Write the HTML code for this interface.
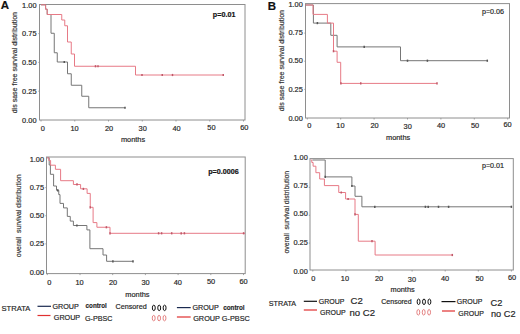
<!DOCTYPE html><html><head><meta charset="utf-8"><style>html,body{margin:0;padding:0;background:#fff;width:520px;height:334px;overflow:hidden}svg{display:block}text{font-family:"Liberation Sans",sans-serif}</style></head><body>
<svg width="520" height="334" viewBox="0 0 520 334">
<rect width="520" height="334" fill="#fff"/>
<text x="0.70" y="8.76" font-size="11.5" text-anchor="start" font-weight="bold" fill="#111" stroke="#111" stroke-width="0.18">A</text>
<rect x="39.50" y="4.50" width="205.50" height="115.50" fill="none" stroke="#8e8e8e" stroke-width="1"/>
<line x1="41.00" y1="120.00" x2="41.00" y2="121.50" stroke="#8e8e8e" stroke-width="0.8"/>
<line x1="74.75" y1="120.00" x2="74.75" y2="121.50" stroke="#8e8e8e" stroke-width="0.8"/>
<line x1="108.50" y1="120.00" x2="108.50" y2="121.50" stroke="#8e8e8e" stroke-width="0.8"/>
<line x1="142.25" y1="120.00" x2="142.25" y2="121.50" stroke="#8e8e8e" stroke-width="0.8"/>
<line x1="176.00" y1="120.00" x2="176.00" y2="121.50" stroke="#8e8e8e" stroke-width="0.8"/>
<line x1="209.75" y1="120.00" x2="209.75" y2="121.50" stroke="#8e8e8e" stroke-width="0.8"/>
<line x1="243.50" y1="120.00" x2="243.50" y2="121.50" stroke="#8e8e8e" stroke-width="0.8"/>
<line x1="38.30" y1="33.60" x2="39.50" y2="33.60" stroke="#8e8e8e" stroke-width="0.8"/>
<line x1="38.30" y1="62.40" x2="39.50" y2="62.40" stroke="#8e8e8e" stroke-width="0.8"/>
<line x1="38.30" y1="91.20" x2="39.50" y2="91.20" stroke="#8e8e8e" stroke-width="0.8"/>
<text x="36.50" y="7.75" font-size="7.4" text-anchor="end" font-weight="normal" fill="#262626" stroke="#262626" stroke-width="0.18">1.00</text>
<text x="36.50" y="35.95" font-size="7.4" text-anchor="end" font-weight="normal" fill="#262626" stroke="#262626" stroke-width="0.18">0.75</text>
<text x="36.50" y="64.65" font-size="7.4" text-anchor="end" font-weight="normal" fill="#262626" stroke="#262626" stroke-width="0.18">0.50</text>
<text x="36.50" y="93.55" font-size="7.4" text-anchor="end" font-weight="normal" fill="#262626" stroke="#262626" stroke-width="0.18">0.25</text>
<text x="36.50" y="123.35" font-size="7.4" text-anchor="end" font-weight="normal" fill="#262626" stroke="#262626" stroke-width="0.18">0.00</text>
<text x="42.80" y="130.75" font-size="7.4" text-anchor="middle" font-weight="normal" fill="#262626" stroke="#262626" stroke-width="0.18">0</text>
<text x="74.60" y="130.75" font-size="7.4" text-anchor="middle" font-weight="normal" fill="#262626" stroke="#262626" stroke-width="0.18">10</text>
<text x="109.00" y="130.75" font-size="7.4" text-anchor="middle" font-weight="normal" fill="#262626" stroke="#262626" stroke-width="0.18">20</text>
<text x="142.70" y="131.45" font-size="7.4" text-anchor="middle" font-weight="normal" fill="#262626" stroke="#262626" stroke-width="0.18">30</text>
<text x="176.60" y="130.75" font-size="7.4" text-anchor="middle" font-weight="normal" fill="#262626" stroke="#262626" stroke-width="0.18">40</text>
<text x="211.40" y="130.15" font-size="7.4" text-anchor="middle" font-weight="normal" fill="#262626" stroke="#262626" stroke-width="0.18">50</text>
<text x="244.30" y="130.05" font-size="7.4" text-anchor="middle" font-weight="normal" fill="#262626" stroke="#262626" stroke-width="0.18">60</text>
<text x="133.00" y="142.25" font-size="7.4" text-anchor="middle" font-weight="normal" fill="#262626" stroke="#262626" stroke-width="0.18">months</text>
<text x="0" y="0" font-size="7.0" text-anchor="middle" fill="#333" stroke="#333" stroke-width="0.18" transform="translate(17.10,62.60) rotate(-90)">dis sase free survival distribution</text>
<text x="224.10" y="16.88" font-size="7.2" text-anchor="middle" font-weight="bold" fill="#111" stroke="#111" stroke-width="0.18">p=0.01</text>
<path d="M41.00 4.80 L45.60 4.80 L45.60 9.20 L47.20 9.20 L47.20 14.50 L51.00 14.50 L51.00 33.25 L54.25 33.25 L54.25 52.75 L57.25 52.75 L57.25 62.00 L67.50 62.00 L67.50 73.75 L71.25 73.75 L71.25 85.25 L81.75 85.25 L81.75 96.25 L88.75 96.25 L88.75 107.75 L125.00 107.75" fill="none" stroke="#767676" stroke-width="1.0" stroke-linejoin="miter"/>
<path d="M41.00 4.80 L45.60 4.80 L45.60 9.20 L47.20 9.20 L47.20 14.50 L61.75 14.50 L61.75 20.00 L64.75 20.00 L64.75 25.75 L67.50 25.75 L67.50 42.00 L71.25 42.00 L71.25 54.00 L74.50 54.00 L74.50 66.25 L135.50 66.25 L135.50 75.00 L223.25 75.00" fill="none" stroke="#e77a86" stroke-width="1.0" stroke-linejoin="miter"/>
<line x1="64.25" y1="60.90" x2="64.25" y2="63.10" stroke="#555" stroke-width="1.5"/>
<line x1="125.00" y1="106.65" x2="125.00" y2="108.85" stroke="#555" stroke-width="1.5"/>
<line x1="95.50" y1="65.15" x2="95.50" y2="67.35" stroke="#c05868" stroke-width="1.5"/>
<line x1="98.00" y1="65.15" x2="98.00" y2="67.35" stroke="#c05868" stroke-width="1.5"/>
<line x1="142.00" y1="73.90" x2="142.00" y2="76.10" stroke="#c05868" stroke-width="1.5"/>
<line x1="162.25" y1="73.90" x2="162.25" y2="76.10" stroke="#c05868" stroke-width="1.5"/>
<line x1="172.50" y1="73.90" x2="172.50" y2="76.10" stroke="#c05868" stroke-width="1.5"/>
<line x1="223.25" y1="73.90" x2="223.25" y2="76.10" stroke="#c05868" stroke-width="1.5"/>
<rect x="46.50" y="157.00" width="198.70" height="116.60" fill="none" stroke="#8e8e8e" stroke-width="1"/>
<line x1="47.30" y1="273.60" x2="47.30" y2="275.10" stroke="#8e8e8e" stroke-width="0.8"/>
<line x1="80.00" y1="273.60" x2="80.00" y2="275.10" stroke="#8e8e8e" stroke-width="0.8"/>
<line x1="112.70" y1="273.60" x2="112.70" y2="275.10" stroke="#8e8e8e" stroke-width="0.8"/>
<line x1="145.40" y1="273.60" x2="145.40" y2="275.10" stroke="#8e8e8e" stroke-width="0.8"/>
<line x1="178.10" y1="273.60" x2="178.10" y2="275.10" stroke="#8e8e8e" stroke-width="0.8"/>
<line x1="210.80" y1="273.60" x2="210.80" y2="275.10" stroke="#8e8e8e" stroke-width="0.8"/>
<line x1="243.50" y1="273.60" x2="243.50" y2="275.10" stroke="#8e8e8e" stroke-width="0.8"/>
<line x1="45.30" y1="187.62" x2="46.50" y2="187.62" stroke="#8e8e8e" stroke-width="0.8"/>
<line x1="45.30" y1="215.75" x2="46.50" y2="215.75" stroke="#8e8e8e" stroke-width="0.8"/>
<line x1="45.30" y1="243.88" x2="46.50" y2="243.88" stroke="#8e8e8e" stroke-width="0.8"/>
<text x="44.10" y="162.40" font-size="7.4" text-anchor="end" font-weight="normal" fill="#262626" stroke="#262626" stroke-width="0.18">1.00</text>
<text x="44.10" y="189.75" font-size="7.4" text-anchor="end" font-weight="normal" fill="#262626" stroke="#262626" stroke-width="0.18">0.75</text>
<text x="44.10" y="217.65" font-size="7.4" text-anchor="end" font-weight="normal" fill="#262626" stroke="#262626" stroke-width="0.18">0.50</text>
<text x="44.10" y="245.65" font-size="7.4" text-anchor="end" font-weight="normal" fill="#262626" stroke="#262626" stroke-width="0.18">0.25</text>
<text x="44.10" y="274.60" font-size="7.4" text-anchor="end" font-weight="normal" fill="#262626" stroke="#262626" stroke-width="0.18">0.00</text>
<text x="49.20" y="284.55" font-size="7.4" text-anchor="middle" font-weight="normal" fill="#262626" stroke="#262626" stroke-width="0.18">0</text>
<text x="79.60" y="284.55" font-size="7.4" text-anchor="middle" font-weight="normal" fill="#262626" stroke="#262626" stroke-width="0.18">10</text>
<text x="113.00" y="284.55" font-size="7.4" text-anchor="middle" font-weight="normal" fill="#262626" stroke="#262626" stroke-width="0.18">20</text>
<text x="145.50" y="285.25" font-size="7.4" text-anchor="middle" font-weight="normal" fill="#262626" stroke="#262626" stroke-width="0.18">30</text>
<text x="177.80" y="284.95" font-size="7.4" text-anchor="middle" font-weight="normal" fill="#262626" stroke="#262626" stroke-width="0.18">40</text>
<text x="211.10" y="284.45" font-size="7.4" text-anchor="middle" font-weight="normal" fill="#262626" stroke="#262626" stroke-width="0.18">50</text>
<text x="243.60" y="283.55" font-size="7.4" text-anchor="middle" font-weight="normal" fill="#262626" stroke="#262626" stroke-width="0.18">60</text>
<text x="137.40" y="296.65" font-size="7.4" text-anchor="middle" font-weight="normal" fill="#262626" stroke="#262626" stroke-width="0.18">months</text>
<text x="0" y="0" font-size="6.9" text-anchor="middle" fill="#333" stroke="#333" stroke-width="0.18" transform="translate(21.27,215.80) rotate(-90)">overall&#160; survival distribution</text>
<text x="223.50" y="173.98" font-size="7.2" text-anchor="middle" font-weight="bold" fill="#111" stroke="#111" stroke-width="0.18">p=0.0006</text>
<path d="M47.30 157.80 L49.20 157.80 L49.20 165.00 L50.40 165.00 L50.40 174.30 L53.60 174.30 L53.60 186.00 L56.50 186.00 L56.50 190.30 L58.75 190.30 L58.75 194.60 L60.00 194.60 L60.00 203.40 L63.50 203.40 L63.50 207.90 L67.30 207.90 L67.30 216.40 L70.25 216.40 L70.25 221.10 L73.40 221.10 L73.40 225.50 L86.90 225.50 L86.90 229.90 L89.90 229.90 L89.90 248.70 L103.00 248.70 L103.00 255.00 L106.60 255.00 L106.60 261.30 L133.00 261.30" fill="none" stroke="#767676" stroke-width="1.0" stroke-linejoin="miter"/>
<path d="M47.30 157.80 L48.80 157.80 L48.80 160.50 L50.60 160.50 L50.60 165.20 L55.40 165.20 L55.40 169.30 L60.60 169.30 L60.60 180.70 L73.40 180.70 L73.40 184.50 L80.60 184.50 L80.60 188.80 L87.10 188.80 L87.10 193.40 L90.25 193.40 L90.25 207.30 L93.10 207.30 L93.10 222.60 L96.90 222.60 L96.90 227.25 L110.00 227.25 L110.00 233.30 L245.00 233.30" fill="none" stroke="#e77a86" stroke-width="1.0" stroke-linejoin="miter"/>
<line x1="57.75" y1="189.20" x2="57.75" y2="191.40" stroke="#555" stroke-width="1.5"/>
<line x1="76.90" y1="224.40" x2="76.90" y2="226.60" stroke="#555" stroke-width="1.5"/>
<line x1="112.90" y1="260.20" x2="112.90" y2="262.40" stroke="#555" stroke-width="1.5"/>
<line x1="133.00" y1="260.20" x2="133.00" y2="262.40" stroke="#555" stroke-width="1.5"/>
<line x1="77.00" y1="183.30" x2="77.00" y2="185.50" stroke="#c05868" stroke-width="1.5"/>
<line x1="83.40" y1="187.80" x2="83.40" y2="190.00" stroke="#c05868" stroke-width="1.5"/>
<line x1="90.25" y1="206.20" x2="90.25" y2="208.40" stroke="#c05868" stroke-width="1.5"/>
<line x1="106.40" y1="226.15" x2="106.40" y2="228.35" stroke="#c05868" stroke-width="1.5"/>
<line x1="110.00" y1="232.20" x2="110.00" y2="234.40" stroke="#c05868" stroke-width="1.5"/>
<line x1="158.60" y1="232.20" x2="158.60" y2="234.40" stroke="#c05868" stroke-width="1.5"/>
<line x1="161.60" y1="232.20" x2="161.60" y2="234.40" stroke="#c05868" stroke-width="1.5"/>
<line x1="171.70" y1="232.20" x2="171.70" y2="234.40" stroke="#c05868" stroke-width="1.5"/>
<line x1="181.20" y1="232.20" x2="181.20" y2="234.40" stroke="#c05868" stroke-width="1.5"/>
<line x1="184.40" y1="232.20" x2="184.40" y2="234.40" stroke="#c05868" stroke-width="1.5"/>
<line x1="243.60" y1="232.20" x2="243.60" y2="234.40" stroke="#c05868" stroke-width="1.5"/>
<text x="267.80" y="9.76" font-size="11.5" text-anchor="start" font-weight="bold" fill="#111" stroke="#111" stroke-width="0.18">B</text>
<rect x="305.50" y="3.60" width="204.00" height="114.40" fill="none" stroke="#8e8e8e" stroke-width="1"/>
<line x1="307.30" y1="118.00" x2="307.30" y2="119.50" stroke="#8e8e8e" stroke-width="0.8"/>
<line x1="340.70" y1="118.00" x2="340.70" y2="119.50" stroke="#8e8e8e" stroke-width="0.8"/>
<line x1="374.10" y1="118.00" x2="374.10" y2="119.50" stroke="#8e8e8e" stroke-width="0.8"/>
<line x1="407.50" y1="118.00" x2="407.50" y2="119.50" stroke="#8e8e8e" stroke-width="0.8"/>
<line x1="440.90" y1="118.00" x2="440.90" y2="119.50" stroke="#8e8e8e" stroke-width="0.8"/>
<line x1="474.30" y1="118.00" x2="474.30" y2="119.50" stroke="#8e8e8e" stroke-width="0.8"/>
<line x1="507.70" y1="118.00" x2="507.70" y2="119.50" stroke="#8e8e8e" stroke-width="0.8"/>
<line x1="304.30" y1="33.12" x2="305.50" y2="33.12" stroke="#8e8e8e" stroke-width="0.8"/>
<line x1="304.30" y1="61.25" x2="305.50" y2="61.25" stroke="#8e8e8e" stroke-width="0.8"/>
<line x1="304.30" y1="89.38" x2="305.50" y2="89.38" stroke="#8e8e8e" stroke-width="0.8"/>
<text x="302.80" y="6.90" font-size="7.4" text-anchor="end" font-weight="normal" fill="#262626" stroke="#262626" stroke-width="0.18">1.00</text>
<text x="302.80" y="34.70" font-size="7.4" text-anchor="end" font-weight="normal" fill="#262626" stroke="#262626" stroke-width="0.18">0.75</text>
<text x="302.80" y="63.45" font-size="7.4" text-anchor="end" font-weight="normal" fill="#262626" stroke="#262626" stroke-width="0.18">0.50</text>
<text x="302.80" y="91.65" font-size="7.4" text-anchor="end" font-weight="normal" fill="#262626" stroke="#262626" stroke-width="0.18">0.25</text>
<text x="302.80" y="121.35" font-size="7.4" text-anchor="end" font-weight="normal" fill="#262626" stroke="#262626" stroke-width="0.18">0.00</text>
<text x="309.20" y="127.85" font-size="7.4" text-anchor="middle" font-weight="normal" fill="#262626" stroke="#262626" stroke-width="0.18">0</text>
<text x="340.40" y="128.35" font-size="7.4" text-anchor="middle" font-weight="normal" fill="#262626" stroke="#262626" stroke-width="0.18">10</text>
<text x="374.50" y="128.35" font-size="7.4" text-anchor="middle" font-weight="normal" fill="#262626" stroke="#262626" stroke-width="0.18">20</text>
<text x="407.70" y="128.85" font-size="7.4" text-anchor="middle" font-weight="normal" fill="#262626" stroke="#262626" stroke-width="0.18">30</text>
<text x="441.00" y="128.25" font-size="7.4" text-anchor="middle" font-weight="normal" fill="#262626" stroke="#262626" stroke-width="0.18">40</text>
<text x="475.00" y="127.85" font-size="7.4" text-anchor="middle" font-weight="normal" fill="#262626" stroke="#262626" stroke-width="0.18">50</text>
<text x="507.60" y="127.45" font-size="7.4" text-anchor="middle" font-weight="normal" fill="#262626" stroke="#262626" stroke-width="0.18">60</text>
<text x="398.10" y="139.55" font-size="7.4" text-anchor="middle" font-weight="normal" fill="#262626" stroke="#262626" stroke-width="0.18">months</text>
<text x="0" y="0" font-size="7.0" text-anchor="middle" fill="#333" stroke="#333" stroke-width="0.18" transform="translate(283.70,60.60) rotate(-90)">dis sase free survival distribution</text>
<text x="493.00" y="13.58" font-size="7.2" text-anchor="middle" font-weight="normal" fill="#262626" stroke="#262626" stroke-width="0.18">p=0.06</text>
<path d="M305.50 5.00 L313.40 5.00 L313.40 23.10 L330.80 23.10 L330.80 35.30 L337.10 35.30 L337.10 46.90 L400.50 46.90 L400.50 60.70 L487.30 60.70" fill="none" stroke="#767676" stroke-width="1.0" stroke-linejoin="miter"/>
<path d="M305.50 5.00 L313.00 5.00 L313.00 14.40 L327.40 14.40 L327.40 23.10 L333.50 23.10 L333.50 51.20 L337.10 51.20 L337.10 62.30 L340.70 62.30 L340.70 83.40 L437.00 83.40" fill="none" stroke="#e77a86" stroke-width="1.0" stroke-linejoin="miter"/>
<line x1="317.40" y1="22.00" x2="317.40" y2="24.20" stroke="#555" stroke-width="1.5"/>
<line x1="364.20" y1="45.80" x2="364.20" y2="48.00" stroke="#555" stroke-width="1.5"/>
<line x1="407.50" y1="59.60" x2="407.50" y2="61.80" stroke="#555" stroke-width="1.5"/>
<line x1="427.40" y1="59.60" x2="427.40" y2="61.80" stroke="#555" stroke-width="1.5"/>
<line x1="487.30" y1="59.60" x2="487.30" y2="61.80" stroke="#555" stroke-width="1.5"/>
<line x1="333.50" y1="50.10" x2="333.50" y2="52.30" stroke="#c05868" stroke-width="1.5"/>
<line x1="340.90" y1="82.30" x2="340.90" y2="84.50" stroke="#c05868" stroke-width="1.5"/>
<line x1="360.75" y1="82.30" x2="360.75" y2="84.50" stroke="#c05868" stroke-width="1.5"/>
<line x1="437.00" y1="82.30" x2="437.00" y2="84.50" stroke="#c05868" stroke-width="1.5"/>
<rect x="310.00" y="158.60" width="203.30" height="111.40" fill="none" stroke="#8e8e8e" stroke-width="1"/>
<line x1="312.80" y1="270.00" x2="312.80" y2="271.50" stroke="#8e8e8e" stroke-width="0.8"/>
<line x1="345.90" y1="270.00" x2="345.90" y2="271.50" stroke="#8e8e8e" stroke-width="0.8"/>
<line x1="379.00" y1="270.00" x2="379.00" y2="271.50" stroke="#8e8e8e" stroke-width="0.8"/>
<line x1="412.10" y1="270.00" x2="412.10" y2="271.50" stroke="#8e8e8e" stroke-width="0.8"/>
<line x1="445.20" y1="270.00" x2="445.20" y2="271.50" stroke="#8e8e8e" stroke-width="0.8"/>
<line x1="478.30" y1="270.00" x2="478.30" y2="271.50" stroke="#8e8e8e" stroke-width="0.8"/>
<line x1="511.40" y1="270.00" x2="511.40" y2="271.50" stroke="#8e8e8e" stroke-width="0.8"/>
<line x1="308.80" y1="187.38" x2="310.00" y2="187.38" stroke="#8e8e8e" stroke-width="0.8"/>
<line x1="308.80" y1="215.25" x2="310.00" y2="215.25" stroke="#8e8e8e" stroke-width="0.8"/>
<line x1="308.80" y1="243.12" x2="310.00" y2="243.12" stroke="#8e8e8e" stroke-width="0.8"/>
<text x="307.80" y="159.90" font-size="7.4" text-anchor="end" font-weight="normal" fill="#262626" stroke="#262626" stroke-width="0.18">1.00</text>
<text x="307.80" y="187.70" font-size="7.4" text-anchor="end" font-weight="normal" fill="#262626" stroke="#262626" stroke-width="0.18">0.75</text>
<text x="307.80" y="216.45" font-size="7.4" text-anchor="end" font-weight="normal" fill="#262626" stroke="#262626" stroke-width="0.18">0.50</text>
<text x="307.80" y="244.55" font-size="7.4" text-anchor="end" font-weight="normal" fill="#262626" stroke="#262626" stroke-width="0.18">0.25</text>
<text x="307.80" y="274.35" font-size="7.4" text-anchor="end" font-weight="normal" fill="#262626" stroke="#262626" stroke-width="0.18">0.00</text>
<text x="313.20" y="281.05" font-size="7.4" text-anchor="middle" font-weight="normal" fill="#262626" stroke="#262626" stroke-width="0.18">0</text>
<text x="344.90" y="281.45" font-size="7.4" text-anchor="middle" font-weight="normal" fill="#262626" stroke="#262626" stroke-width="0.18">10</text>
<text x="379.00" y="281.45" font-size="7.4" text-anchor="middle" font-weight="normal" fill="#262626" stroke="#262626" stroke-width="0.18">20</text>
<text x="411.90" y="281.95" font-size="7.4" text-anchor="middle" font-weight="normal" fill="#262626" stroke="#262626" stroke-width="0.18">30</text>
<text x="445.00" y="281.35" font-size="7.4" text-anchor="middle" font-weight="normal" fill="#262626" stroke="#262626" stroke-width="0.18">40</text>
<text x="479.50" y="280.85" font-size="7.4" text-anchor="middle" font-weight="normal" fill="#262626" stroke="#262626" stroke-width="0.18">50</text>
<text x="512.00" y="279.95" font-size="7.4" text-anchor="middle" font-weight="normal" fill="#262626" stroke="#262626" stroke-width="0.18">60</text>
<text x="402.60" y="291.95" font-size="7.4" text-anchor="middle" font-weight="normal" fill="#262626" stroke="#262626" stroke-width="0.18">months</text>
<text x="0" y="0" font-size="6.9" text-anchor="middle" fill="#333" stroke="#333" stroke-width="0.18" transform="translate(288.77,212.20) rotate(-90)">overall&#160; survival distribution</text>
<text x="493.00" y="168.48" font-size="7.2" text-anchor="middle" font-weight="normal" fill="#262626" stroke="#262626" stroke-width="0.18">p=0.01</text>
<path d="M312.40 160.00 L325.20 160.00 L325.20 176.90 L351.90 176.90 L351.90 186.00 L355.00 186.00 L355.00 196.30 L361.90 196.30 L361.90 206.80 L511.40 206.80" fill="none" stroke="#767676" stroke-width="1.0" stroke-linejoin="miter"/>
<path d="M310.80 160.00 L311.80 160.00 L311.80 162.50 L313.10 162.50 L313.10 166.20 L315.90 166.20 L315.90 172.70 L319.70 172.70 L319.70 179.00 L324.40 179.00 L324.40 185.60 L338.75 185.60 L338.75 192.50 L345.60 192.50 L345.60 199.00 L355.00 199.00 L355.00 214.40 L358.30 214.40 L358.30 241.20 L375.10 241.20 L375.10 255.00 L452.30 255.00" fill="none" stroke="#e77a86" stroke-width="1.0" stroke-linejoin="miter"/>
<line x1="325.20" y1="175.80" x2="325.20" y2="178.00" stroke="#555" stroke-width="1.5"/>
<line x1="351.90" y1="184.90" x2="351.90" y2="187.10" stroke="#555" stroke-width="1.5"/>
<line x1="374.80" y1="205.70" x2="374.80" y2="207.90" stroke="#555" stroke-width="1.5"/>
<line x1="425.40" y1="205.70" x2="425.40" y2="207.90" stroke="#555" stroke-width="1.5"/>
<line x1="428.20" y1="205.70" x2="428.20" y2="207.90" stroke="#555" stroke-width="1.5"/>
<line x1="438.50" y1="205.70" x2="438.50" y2="207.90" stroke="#555" stroke-width="1.5"/>
<line x1="448.60" y1="205.70" x2="448.60" y2="207.90" stroke="#555" stroke-width="1.5"/>
<line x1="511.40" y1="205.70" x2="511.40" y2="207.90" stroke="#555" stroke-width="1.5"/>
<line x1="341.25" y1="191.40" x2="341.25" y2="193.60" stroke="#c05868" stroke-width="1.5"/>
<line x1="348.10" y1="197.90" x2="348.10" y2="200.10" stroke="#c05868" stroke-width="1.5"/>
<line x1="355.00" y1="213.30" x2="355.00" y2="215.50" stroke="#c05868" stroke-width="1.5"/>
<line x1="372.00" y1="240.10" x2="372.00" y2="242.30" stroke="#c05868" stroke-width="1.5"/>
<line x1="452.30" y1="253.90" x2="452.30" y2="256.10" stroke="#c05868" stroke-width="1.5"/>
<text x="1.50" y="311.11" font-size="7.6" text-anchor="start" font-weight="normal" fill="#262626" stroke="#262626" stroke-width="0.18">STRATA</text>
<line x1="37.5" y1="306.3" x2="51.0" y2="306.3" stroke="#1a2a50" stroke-width="1.2"/>
<line x1="37.5" y1="315.5" x2="50.5" y2="315.5" stroke="#e03030" stroke-width="1.2"/>
<text x="52.50" y="309.48" font-size="7.2" text-anchor="start" font-weight="normal" fill="#262626" stroke="#262626" stroke-width="0.18">GROUP</text>
<text x="53.80" y="320.48" font-size="7.2" text-anchor="start" font-weight="normal" fill="#262626" stroke="#262626" stroke-width="0.18">GROUP</text>
<text x="85.60" y="307.61" font-size="7.3" text-anchor="start" font-weight="bold" fill="#262626" stroke="#262626" stroke-width="0.18" textLength="21.2" lengthAdjust="spacingAndGlyphs">control</text>
<text x="85.00" y="321.08" font-size="7.2" text-anchor="start" font-weight="normal" fill="#262626" stroke="#262626" stroke-width="0.18">G-PBSC</text>
<text x="115.60" y="309.48" font-size="7.2" text-anchor="start" font-weight="normal" fill="#262626" stroke="#262626" stroke-width="0.18">Censored</text>
<text x="192.50" y="310.18" font-size="7.2" text-anchor="start" font-weight="normal" fill="#262626" stroke="#262626" stroke-width="0.18">GROUP</text>
<text x="223.20" y="309.55" font-size="7.4" text-anchor="start" font-weight="bold" fill="#262626" stroke="#262626" stroke-width="0.18" textLength="21.4" lengthAdjust="spacingAndGlyphs">control</text>
<text x="193.20" y="321.21" font-size="7.3" text-anchor="start" font-weight="normal" fill="#262626" stroke="#262626" stroke-width="0.18">GROUP G-PBSC</text>
<line x1="176.9" y1="307.6" x2="190.7" y2="307.6" stroke="#1a2a50" stroke-width="1.2"/>
<line x1="176.9" y1="317.0" x2="190.7" y2="317.0" stroke="#e03030" stroke-width="1.2"/>
<ellipse cx="153.80" cy="307.90" rx="1.45" ry="2.75" fill="none" stroke="#111" stroke-width="1.0"/>
<ellipse cx="159.20" cy="307.90" rx="1.45" ry="2.75" fill="none" stroke="#111" stroke-width="1.0"/>
<ellipse cx="164.60" cy="307.90" rx="1.45" ry="2.75" fill="none" stroke="#111" stroke-width="1.0"/>
<ellipse cx="153.70" cy="318.10" rx="1.45" ry="2.75" fill="none" stroke="#d85050" stroke-width="0.7"/>
<ellipse cx="159.10" cy="318.10" rx="1.45" ry="2.75" fill="none" stroke="#d85050" stroke-width="0.7"/>
<ellipse cx="164.50" cy="318.10" rx="1.45" ry="2.75" fill="none" stroke="#d85050" stroke-width="0.7"/>
<text x="268.80" y="305.88" font-size="7.2" text-anchor="start" font-weight="normal" fill="#262626" stroke="#262626" stroke-width="0.18">STRATA</text>
<line x1="303.8" y1="301.3" x2="317.0" y2="301.3" stroke="#111" stroke-width="1.2"/>
<line x1="303.8" y1="310.0" x2="317.0" y2="310.0" stroke="#e03030" stroke-width="1.2"/>
<text x="318.80" y="304.21" font-size="7.0" text-anchor="start" font-weight="normal" fill="#262626" stroke="#262626" stroke-width="0.18">GROUP</text>
<text x="320.00" y="314.91" font-size="7.0" text-anchor="start" font-weight="normal" fill="#262626" stroke="#262626" stroke-width="0.18">GROUP</text>
<text x="350.50" y="304.30" font-size="9.6" text-anchor="start" font-weight="normal" fill="#262626" stroke="#262626" stroke-width="0.18">C2</text>
<text x="349.50" y="315.60" font-size="9.6" text-anchor="start" font-weight="normal" fill="#262626" stroke="#262626" stroke-width="0.18">no C2</text>
<text x="381.30" y="304.01" font-size="7.0" text-anchor="start" font-weight="normal" fill="#262626" stroke="#262626" stroke-width="0.18">Censored</text>
<ellipse cx="418.60" cy="301.80" rx="1.45" ry="2.75" fill="none" stroke="#111" stroke-width="1.0"/>
<ellipse cx="424.00" cy="301.80" rx="1.45" ry="2.75" fill="none" stroke="#111" stroke-width="1.0"/>
<ellipse cx="429.40" cy="301.80" rx="1.45" ry="2.75" fill="none" stroke="#111" stroke-width="1.0"/>
<ellipse cx="418.30" cy="312.30" rx="1.45" ry="2.75" fill="none" stroke="#d85050" stroke-width="0.7"/>
<ellipse cx="423.70" cy="312.30" rx="1.45" ry="2.75" fill="none" stroke="#d85050" stroke-width="0.7"/>
<ellipse cx="429.10" cy="312.30" rx="1.45" ry="2.75" fill="none" stroke="#d85050" stroke-width="0.7"/>
<line x1="441.5" y1="301.6" x2="455.5" y2="301.6" stroke="#111" stroke-width="1.2"/>
<line x1="442.0" y1="311.0" x2="455.0" y2="311.0" stroke="#e03030" stroke-width="1.2"/>
<text x="456.80" y="304.01" font-size="7.0" text-anchor="start" font-weight="normal" fill="#262626" stroke="#262626" stroke-width="0.18">GROUP</text>
<text x="458.20" y="316.11" font-size="7.0" text-anchor="start" font-weight="normal" fill="#262626" stroke="#262626" stroke-width="0.18">GROUP</text>
<text x="490.50" y="306.10" font-size="9.3" text-anchor="start" font-weight="normal" fill="#262626" stroke="#262626" stroke-width="0.18">C2</text>
<text x="491.00" y="316.86" font-size="9.2" text-anchor="start" font-weight="normal" fill="#262626" stroke="#262626" stroke-width="0.18">no C2</text>
</svg></body></html>
